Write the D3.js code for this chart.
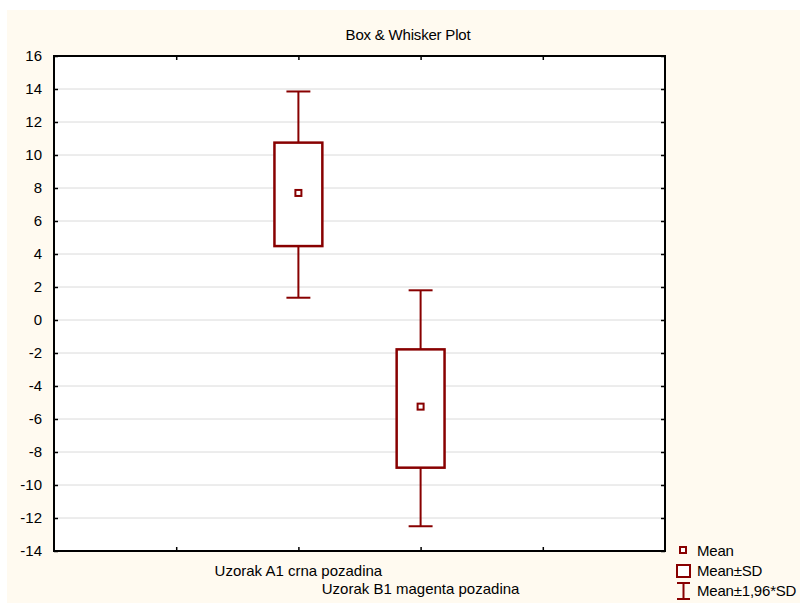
<!DOCTYPE html>
<html>
<head>
<meta charset="utf-8">
<script src="https://cdn.jsdelivr.net/npm/d3@7"></script>
<style>
  body { margin: 0; background: #fff; }
  svg text { font-family: "Liberation Sans", Arial, sans-serif; fill: #000; }
</style>
</head>
<body>
<div id="chart"></div>
<script>
(function () {

  // values
  var categories = ['Uzorak A1 crna pozadina', 'Uzorak B1 magenta pozadina'],
      means      = [7.70, -5.25],
      sdLow      = [4.48, -8.95],
      sdHigh     = [10.75, -1.78],
      ciLow      = [1.35, -12.5],
      ciHigh     = [13.85, 1.80],
      yTicks     = [-14, -12, -10, -8, -6, -4, -2, 0, 2, 4, 6, 8, 10, 12, 14, 16],
      legendLabels = ['Mean', 'Mean\u00b1SD', 'Mean\u00b11,96*SD']

  var red = '#880000'

  var margin = { top: 56, left: 54, right: 135, bottom: 52 },
      width = 800 - margin.left - margin.right,
      height = 603 - margin.top - margin.bottom

  var svg = d3.select('#chart')
      .append('svg')
      .attr('width', 800)
      .attr('height', 603)

  // cream background
  svg.append('rect')
    .attr('x', 7).attr('y', 10)
    .attr('width', 793).attr('height', 593)
    .attr('fill', '#fffaf0')

  var g = svg.append('g')
      .attr('transform', 'translate(' + margin.left + ',' + margin.top + ')')

  g.append('rect')
    .attr('width', width).attr('height', height)
    .attr('fill', '#fff')

  var yPositionScale = d3.scaleLinear()
    .domain([-14, 16])
    .range([height, 0])

  // categories sit at 0 and 1, axis runs from -2 to 3
  var xPositionScale = d3.scaleLinear()
    .domain([-2, 3])
    .range([0, width])

  // gridlines
  g.selectAll('.grid')
    .data(yTicks.filter(function (d) { return d > -14 && d < 16 }))
    .enter().append('line')
    .attr('class', 'grid')
    .attr('x1', 0).attr('x2', width)
    .attr('y1', function (d) { return yPositionScale(d) })
    .attr('y2', function (d) { return yPositionScale(d) })
    .attr('stroke', '#dadada')
    .attr('stroke-width', 1)

  // y axis, inward ticks left & right
  var yAxis = d3.axisLeft(yPositionScale).tickValues(yTicks).tickSize(-4).tickPadding(12)
    .tickFormat(function (d) { return String(d) })
  var yAx = g.append('g').attr('class', 'axis y-axis').call(yAxis)
  yAx.select('.domain').remove()
  yAx.selectAll('text').style('font-size', '15px').attr('fill', '#000')
  yAx.selectAll('.tick line').attr('stroke', '#000').attr('stroke-width', 1.5)

  g.append('g')
    .attr('transform', 'translate(' + width + ',0)')
    .call(d3.axisRight(yPositionScale).tickValues(yTicks).tickSize(-4).tickFormat(''))
    .call(function (a) {
      a.select('.domain').remove()
      a.selectAll('.tick line').attr('stroke', '#000').attr('stroke-width', 1.5)
    })

  // x ticks top & bottom, inward
  var xTicks = [-1, 0, 1, 2]
  g.append('g')
    .attr('transform', 'translate(0,' + height + ')')
    .call(d3.axisBottom(xPositionScale).tickValues(xTicks).tickSize(-4).tickFormat(''))
    .call(function (a) {
      a.select('.domain').remove()
      a.selectAll('.tick line').attr('stroke', '#000').attr('stroke-width', 1.5)
    })
  g.append('g')
    .call(d3.axisTop(xPositionScale).tickValues(xTicks).tickSize(-4).tickFormat(''))
    .call(function (a) {
      a.select('.domain').remove()
      a.selectAll('.tick line').attr('stroke', '#000').attr('stroke-width', 1.5)
    })

  // frame
  g.append('rect')
    .attr('width', width).attr('height', height)
    .attr('fill', 'none')
    .attr('stroke', '#000')
    .attr('stroke-width', 2)

  // category labels, staggered
  g.selectAll('.cat-label')
    .data(categories)
    .enter().append('text')
    .attr('class', 'cat-label')
    .attr('x', function (d, i) { return xPositionScale(i) })
    .attr('y', function (d, i) { return height + 25 + i * 18 })
    .attr('text-anchor', 'middle')
    .style('font-size', '15px')
    .text(function (d) { return d })

  var boxHalf = xPositionScale(0.196) - xPositionScale(0),
      capHalf = xPositionScale(0.098) - xPositionScale(0)

  var boxes = g.selectAll('.box')
    .data(categories)
    .enter().append('g')
    .attr('class', 'box')

  // whiskers
  boxes.append('line')
    .attr('x1', function (d, i) { return xPositionScale(i) })
    .attr('x2', function (d, i) { return xPositionScale(i) })
    .attr('y1', function (d, i) { return yPositionScale(ciHigh[i]) })
    .attr('y2', function (d, i) { return yPositionScale(ciLow[i]) })
    .attr('stroke', red).attr('stroke-width', 2)

  boxes.selectAll('.cap')
    .data(function (d, i) { return [ciHigh[i], ciLow[i]].map(function (v) { return { i: i, v: v } }) })
    .enter().append('line')
    .attr('class', 'cap')
    .attr('x1', function (d) { return xPositionScale(d.i) - capHalf })
    .attr('x2', function (d) { return xPositionScale(d.i) + capHalf })
    .attr('y1', function (d) { return yPositionScale(d.v) })
    .attr('y2', function (d) { return yPositionScale(d.v) })
    .attr('stroke', red).attr('stroke-width', 2)

  boxes.append('rect')
    .attr('x', function (d, i) { return xPositionScale(i) - boxHalf })
    .attr('y', function (d, i) { return yPositionScale(sdHigh[i]) })
    .attr('width', boxHalf * 2)
    .attr('height', function (d, i) { return yPositionScale(sdLow[i]) - yPositionScale(sdHigh[i]) })
    .attr('fill', '#fff')
    .attr('stroke', red).attr('stroke-width', 2.5)

  boxes.append('rect')
    .attr('x', function (d, i) { return xPositionScale(i) - 3 })
    .attr('y', function (d, i) { return yPositionScale(means[i]) - 3 })
    .attr('width', 6).attr('height', 6)
    .attr('fill', '#fff')
    .attr('stroke', red).attr('stroke-width', 2)

  // title
  svg.append('text')
    .attr('x', 408).attr('y', 40)
    .attr('text-anchor', 'middle')
    .style('font-size', '15px')
    .style('letter-spacing', '-0.2px')
    .text('Box & Whisker Plot')

  // legend
  var legend = svg.append('g').attr('transform', 'translate(683,0)')
  legend.append('rect')
    .attr('x', -3).attr('y', 547).attr('width', 6).attr('height', 6)
    .attr('fill', '#fff').attr('stroke', red).attr('stroke-width', 2)
  legend.append('rect')
    .attr('x', -6).attr('y', 565).attr('width', 13).attr('height', 12)
    .attr('fill', '#fff').attr('stroke', red).attr('stroke-width', 2)
  legend.append('path')
    .attr('d', 'M-6,583H7M0.5,583V599M-6,599H7')
    .attr('fill', 'none').attr('stroke', red).attr('stroke-width', 2)

  legend.selectAll('.legend-label')
    .data(legendLabels)
    .enter().append('text')
    .attr('class', 'legend-label')
    .attr('x', 14)
    .attr('y', function (d, i) { return 556 + i * 20 })
    .style('font-size', '15px')
    .style('letter-spacing', '-0.2px')
    .text(function (d) { return d })

})()
</script>
</body>
</html>
